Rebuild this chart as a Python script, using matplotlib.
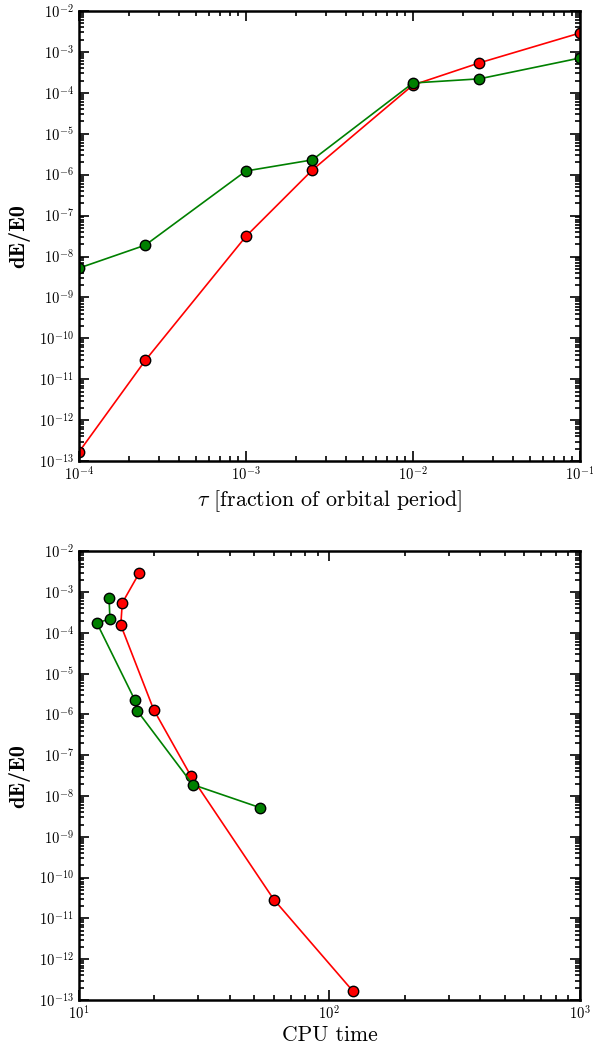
import matplotlib
matplotlib.use("Agg")
import matplotlib.pyplot as plt
from matplotlib.ticker import LogLocator

plt.rcParams['mathtext.fontset'] = 'cm'
plt.rcParams['font.family'] = ['cmr10', 'DejaVu Serif']
plt.rcParams['axes.formatter.use_mathtext'] = True

tau = [1e-4, 2.5e-4, 1e-3, 2.5e-3, 1e-2, 2.5e-2, 1e-1]
dE_red = [1.66e-13, 2.9e-11, 3.1e-8, 1.3e-6, 1.55e-4, 5.4e-4, 2.9e-3]
dE_green = [5.2e-9, 1.9e-8, 1.23e-6, 2.3e-6, 1.74e-4, 2.2e-4, 7.1e-4]
cpu_red = [124, 60, 28.0, 19.9, 14.7, 14.9, 17.4]
cpu_green = [52.8, 28.5, 17.1, 16.7, 11.8, 13.3, 13.2]

fig = plt.figure(figsize=(5.93, 10.48), dpi=100)
ax1 = fig.add_axes([0.133, 0.560, 0.845, 0.4295])
ax2 = fig.add_axes([0.133, 0.0458, 0.845, 0.4282])

def style(ax):
    ax.set_xscale('log')
    ax.set_yscale('log')
    ax.yaxis.set_major_locator(LogLocator(base=10, numticks=20))
    ax.yaxis.set_minor_locator(LogLocator(base=10, subs=range(2, 10), numticks=20))
    ax.tick_params(which='both', direction='in', top=True, right=True, labelsize=10.5, width=1.2)
    ax.tick_params(which='major', length=7)
    ax.tick_params(which='minor', length=3.5)
    for s in ax.spines.values():
        s.set_linewidth(1.8)

mk = dict(marker='o', markersize=7.5, markeredgecolor='black', markeredgewidth=1.0, linewidth=1.2)

ax1.plot(tau, dE_red, color='red', markerfacecolor='red', **mk)
ax1.plot(tau, dE_green, color='green', markerfacecolor='green', **mk)
style(ax1)
ax1.set_xlim(1e-4, 1e-1)
ax1.set_ylim(1e-13, 1e-2)
ax1.set_xlabel(r'$\tau$ [fraction of orbital period]', fontsize=15.8, labelpad=3)
ax1.set_ylabel('dE/E0', fontsize=16, family='cmb10', labelpad=6)

ax2.plot(cpu_red, dE_red, color='red', markerfacecolor='red', **mk)
ax2.plot(cpu_green, dE_green, color='green', markerfacecolor='green', **mk)
style(ax2)
ax2.set_xlim(1e1, 1e3)
ax2.set_ylim(1e-13, 1e-2)
ax2.set_xlabel('CPU time', fontsize=15.5, labelpad=2)
ax2.set_ylabel('dE/E0', fontsize=16, family='cmb10', labelpad=6)

fig.savefig('out.png', dpi=100)
